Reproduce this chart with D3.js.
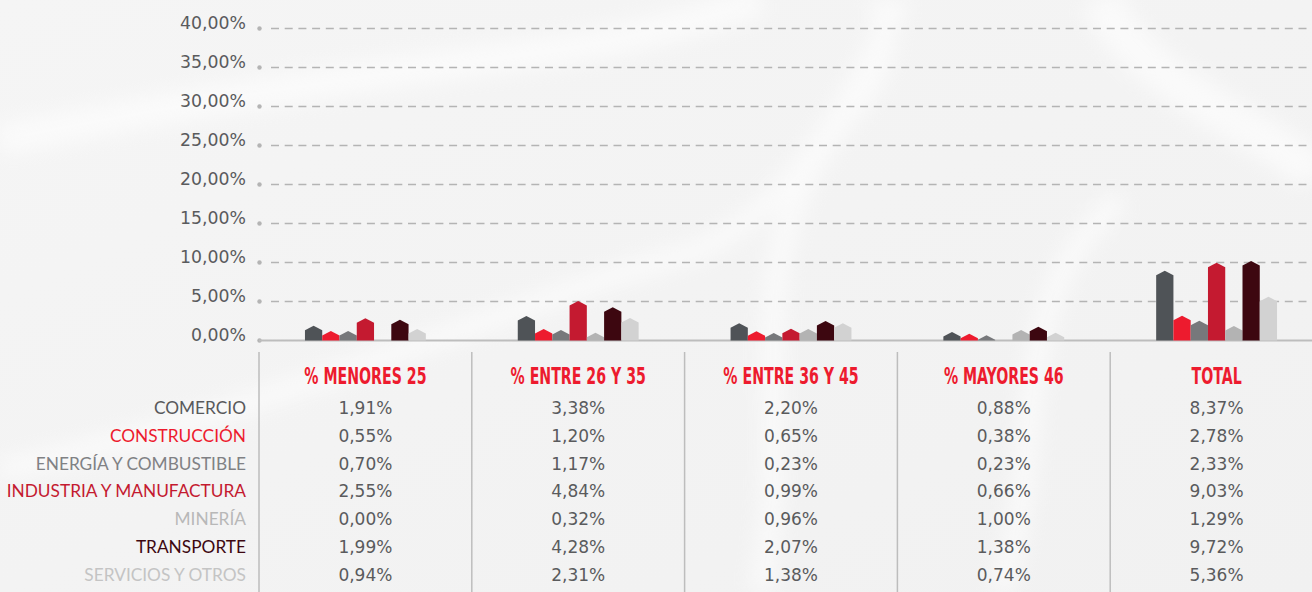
<!DOCTYPE html>
<html><head><meta charset="utf-8">
<script src="https://cdn.jsdelivr.net/npm/d3@7"></script>
<style>
html,body{margin:0;padding:0;background:#f4f4f4;}
svg{display:block;}
</style></head>
<body>
<svg id="chart" width="1312" height="592"></svg>
<script>
// ---------- DATA ----------
const groups = ["% MENORES 25", "% ENTRE 26 Y 35", "% ENTRE 36 Y 45", "% MAYORES 46", "TOTAL"];
const sectors = ["COMERCIO", "CONSTRUCCIÓN", "ENERGÍA Y COMBUSTIBLE", "INDUSTRIA Y MANUFACTURA", "MINERÍA", "TRANSPORTE", "SERVICIOS Y OTROS"];
const yTicks = [0, 5, 10, 15, 20, 25, 30, 35, 40];

// bar heights as drawn in the chart (%), one array per sector, across groups
const barComercio     = [1.32, 2.56, 1.63, 0.51, 8.37];
const barConstruccion = [0.64, 0.90, 0.60, 0.29, 2.60];
const barEnergia      = [0.64, 0.77, 0.38, 0.09, 1.96];
const barIndustria    = [2.27, 4.49, 0.94, 0.00, 9.40];
const barMineria      = [0.00, 0.42, 0.90, 0.77, 1.28];
const barTransporte   = [2.09, 3.68, 1.92, 1.19, 9.62];
const barServicios    = [0.90, 2.31, 1.63, 0.42, 5.04];

// table text values
const tblComercio     = ["1,91%", "3,38%", "2,20%", "0,88%", "8,37%"];
const tblConstruccion = ["0,55%", "1,20%", "0,65%", "0,38%", "2,78%"];
const tblEnergia      = ["0,70%", "1,17%", "0,23%", "0,23%", "2,33%"];
const tblIndustria    = ["2,55%", "4,84%", "0,99%", "0,66%", "9,03%"];
const tblMineria      = ["0,00%", "0,32%", "0,96%", "1,00%", "1,29%"];
const tblTransporte   = ["1,99%", "4,28%", "2,07%", "1,38%", "9,72%"];
const tblServicios    = ["0,94%", "2,31%", "1,38%", "0,74%", "5,36%"];

const barColors   = ["#4f5357", "#ed1b2e", "#77787b", "#c41a30", "#b3b3b3", "#3d0710", "#d2d2d2"];
const labelColors = ["#58595b", "#ed1b2e", "#808184", "#c41a30", "#b8b8b8", "#3d0710", "#c4c4c4"];

const barData = [barComercio, barConstruccion, barEnergia, barIndustria, barMineria, barTransporte, barServicios];
const tblData = [tblComercio, tblConstruccion, tblEnergia, tblIndustria, tblMineria, tblTransporte, tblServicios];

// ---------- LAYOUT ----------
const svg = d3.select("#chart");
const W = 1312, H = 592;
const plotLeft = 259, plotRight = 1312;
const y0 = 340.5, yTop = 28.5;

// background
const defs = svg.append("defs");
const bg = defs.append("linearGradient").attr("id","bg").attr("x1","0").attr("y1","0").attr("x2","1").attr("y2","1");
bg.append("stop").attr("offset","0").attr("stop-color","#f5f5f5");
bg.append("stop").attr("offset","0.5").attr("stop-color","#f3f3f3");
bg.append("stop").attr("offset","1").attr("stop-color","#f1f1f1");
defs.append("filter").attr("id","blur").append("feGaussianBlur").attr("stdDeviation", 10);
svg.append("rect").attr("width",W).attr("height",H).attr("fill","url(#bg)");
const waves = svg.append("g").attr("filter","url(#blur)").attr("fill","none").attr("stroke","#ffffff").attr("opacity",0.6);
waves.append("path").attr("d","M0,140 C200,100 400,70 560,50 C650,35 720,15 760,0").attr("stroke-width",30);
waves.append("path").attr("d","M0,470 C250,420 520,300 700,250 C800,200 850,100 900,0").attr("stroke-width",20);
waves.append("path").attr("d","M760,592 C800,400 720,250 860,100 C900,40 880,10 880,0").attr("stroke-width",22);
waves.append("path").attr("d","M1100,0 C1150,100 1300,140 1312,180").attr("stroke-width",40);
waves.append("path").attr("d","M1000,592 C1050,450 1000,300 1120,200").attr("stroke-width",22);

const y = d3.scaleLinear().domain([0, 40]).range([y0, yTop]);
const x0 = d3.scaleBand().domain(groups).range([plotLeft, plotLeft + 5 * 212.8]).paddingInner(0.432).paddingOuter(0.216);
const x1 = d3.scaleBand().domain(d3.range(sectors.length)).range([0, x0.bandwidth()]);

// gridlines
const grid = svg.append("g");
grid.selectAll("line.g").data(yTicks.filter(d => d > 0)).join("line")
  .attr("x1", 271).attr("x2", plotRight)
  .attr("y1", d => y(d)).attr("y2", d => y(d))
  .attr("stroke", "#b4b4b4").attr("stroke-width", 1.4).attr("stroke-dasharray", "8,5.7");
grid.selectAll("circle").data(yTicks).join("circle")
  .attr("cx", plotLeft + 0.5).attr("cy", d => y(d)).attr("r", 2.2).attr("fill", "#b4b4b4");
// baseline
svg.append("line").attr("x1", plotLeft).attr("x2", plotRight).attr("y1", y0).attr("y2", y0)
  .attr("stroke", "#bdbdbd").attr("stroke-width", 2);

// y axis labels
const yAxis = d3.axisLeft(y).tickValues(yTicks).tickSize(0).tickPadding(0)
  .tickFormat(d => d3.format(".2f")(d).replace(".", ",") + "%");
const ya = svg.append("g").attr("transform", `translate(246,0)`).call(yAxis);
ya.select(".domain").remove();
ya.selectAll("text").attr("font-family", "'DejaVu Sans', sans-serif").attr("font-size", 17.3)
  .attr("fill", "#5a5b5d").attr("dy", "-0.02em").attr("text-anchor","end");

// bars (house shapes)
const tip = 4.5;
const barsG = svg.append("g");
groups.forEach((g, gi) => {
  sectors.forEach((s, si) => {
    const v = barData[si][gi];
    if (v <= 0) return;
    const bx = x0(g) + x1(si), bw = x1.bandwidth();
    const shoulder = y(v), peak = shoulder - tip;
    const p = d3.path();
    p.moveTo(bx, y0); p.lineTo(bx, shoulder); p.lineTo(bx + bw / 2, peak);
    p.lineTo(bx + bw, shoulder); p.lineTo(bx + bw, y0); p.closePath();
    barsG.append("path").attr("d", p.toString()).attr("fill", barColors[si]);
  });
});

// table separators
const sepX = groups.map(g => x0(g) - x0.step() * x0.paddingOuter());
svg.append("g").selectAll("line").data(sepX).join("line")
  .attr("x1", d => d).attr("x2", d => d).attr("y1", 352).attr("y2", H)
  .attr("stroke", "#bdbdbd").attr("stroke-width", 1.5);

// headers
svg.append("g").selectAll("text").data(groups).join("text")
  .attr("transform", d => `translate(${x0(d) + x0.bandwidth() / 2},383.5) scale(0.7,1)`)
  .attr("text-anchor", "middle")
  .attr("font-family", "'Liberation Sans Narrow', 'DejaVu Sans Condensed', sans-serif")
  .attr("font-weight", "bold").attr("font-size", 22.5).attr("fill", "#ed1b2e")
  .text(d => d);

// rows
const rowY = i => 414 + i * 27.8;
const rows = svg.append("g");
sectors.forEach((s, si) => {
  rows.append("text").attr("x", 246).attr("y", rowY(si)).attr("text-anchor", "end")
    .attr("font-family", "Lato, sans-serif").attr("font-size", 17.3)
    .attr("fill", labelColors[si]).text(s);
  groups.forEach((g, gi) => {
    rows.append("text").attr("x", x0(g) + x0.bandwidth() / 2).attr("y", rowY(si))
      .attr("text-anchor", "middle").attr("font-family", "'DejaVu Sans', sans-serif")
      .attr("font-size", 17).attr("fill", "#5a5b5d").text(tblData[si][gi]);
  });
});
</script>
</body></html>
